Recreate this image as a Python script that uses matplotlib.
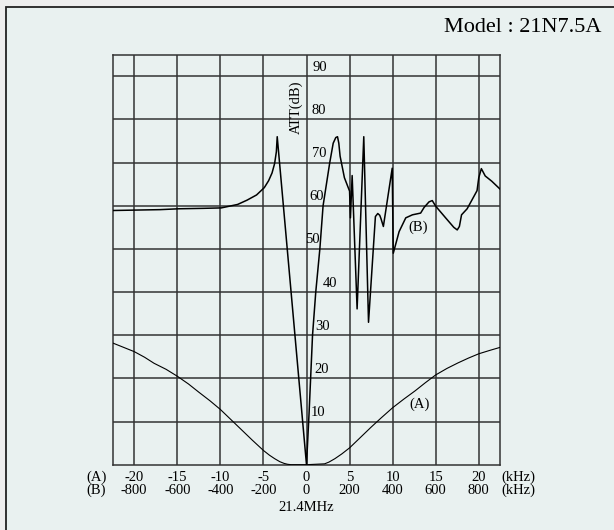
import numpy as np
import matplotlib.pyplot as plt
from matplotlib.patches import Rectangle

plt.rcParams['font.family'] = ['Liberation Serif', 'DejaVu Serif']

# (A) narrow response, kHz from 21.4MHz
a_khz = [-22.5, -21, -20, -18.8, -17.7, -16.3, -15, -13.7, -12.5, -11.2, -10, -8.8,
         -7.6, -6.3, -5, -4.3, -3.7, -3.1, -2.6, -2.2, -1.8,
         0, 2.1, 2.6, 3.3, 4.1, 5, 6.2, 7.5, 8.7, 10, 11.3, 12.6, 13.8, 15,
         16.3, 17.6, 18.8, 20, 21.3, 22.5]
a_att = [28.2, 27.0, 26.2, 24.9, 23.5, 22.1, 20.5, 18.7, 16.8, 14.8, 12.8, 10.5,
         8.2, 5.7, 3.3, 2.2, 1.4, 0.7, 0.3, 0.1, 0.0,
         0.0, 0.2, 0.6, 1.4, 2.5, 3.9, 6.2, 8.7, 10.9, 13.2, 15.2, 17.1, 19.0, 20.8,
         22.3, 23.6, 24.7, 25.7, 26.5, 27.2]

# (B) wide response, kHz from 21.4MHz
b_khz = [-900, -680, -592, -480, -396, -320, -276, -232, -196, -176, -160, -148, -140, -136,
         0, 12, 28, 43, 62, 77, 108, 124, 136, 144, 150, 156, 176, 200, 204, 212,
         235, 266, 288, 320, 331, 340, 346, 357, 398, 403,
         430, 461, 492, 530, 546, 569, 584, 600, 646, 684, 700, 710, 720, 746,
         792, 800, 812, 830, 860, 900]
b_att = [58.9, 59.1, 59.3, 59.4, 59.5, 60.3, 61.3, 62.5, 64.2, 65.8, 67.6, 69.8, 72.5, 76.0,
         0, 12, 30, 40, 50, 60, 70, 74.5, 75.8, 76.0, 74.5, 71.5, 66.5, 63.4, 57.2, 67.0,
         36.1, 76.0, 33.0, 57.5, 58.2, 57.8, 57.0, 55.2, 68.7, 49.0,
         54.0, 57.2, 57.9, 58.3, 59.6, 60.9, 61.2, 59.9, 57.2, 55.0, 54.4, 55.2, 57.9, 59.3,
         63.5, 66.5, 68.6, 66.9, 65.7, 63.8]

a_ticks = [-20, -15, -10, -5, 0, 5, 10, 15, 20]
b_ticks = [-800, -600, -400, -200, 0, 200, 400, 600, 800]
att_ticks = [10, 20, 30, 40, 50, 60, 70, 80, 90]
att_label_x = [1.3, 1.8, 1.9, 2.7, 0.7, 1.2, 1.45, 1.45, 1.6]

bg = '#e9f1f0'
fig = plt.figure(figsize=(6.14, 5.3), dpi=100, facecolor='#eeeeee')
fig.patches.append(Rectangle((5.5 / 614, -0.1), 1.2, 1.1 - 7.3 / 530,
                             transform=fig.transFigure, facecolor=bg,
                             edgecolor='#222222', lw=1.3, zorder=-1))

ax = fig.add_axes([112.7 / 614, 1 - 464.7 / 530, 387.6 / 614, 410 / 530])
ax.set_facecolor(bg)
ax.set_xlim(-22.5, 22.5)
ax.set_ylim(0, 95)
ax.set_xticks([])
ax.set_yticks([])
for s in ax.spines.values():
    s.set_color('#333333')
    s.set_linewidth(1.1)

for x in a_ticks:
    ax.axvline(x, color='#333333', lw=1.1, zorder=1)
for y in att_ticks:
    ax.axhline(y, color='#333333', lw=1.1, zorder=1)

ax.plot(a_khz, a_att, color='black', lw=0.8, zorder=3)
ax.plot(np.array(b_khz) / 40.0, b_att, color='black', lw=1.1, zorder=3)

fs = 10.5
for y, lx in zip(att_ticks, att_label_x):
    ax.text(lx, y + 2.1, str(y), fontsize=fs, ha='center', va='center', zorder=4)
ax.text(-1.15, 82.8, 'ATT(dB)', fontsize=fs, rotation=90, ha='center', va='center')
ax.text(13.1, 14, '(A)', fontsize=fs, ha='center', va='center')
ax.text(13.0, 55, '(B)', fontsize=fs, ha='center', va='center')

tr = ax.get_xaxis_transform()
ya, yb, ym = -0.031, -0.062, -0.104
for xa, xb in zip(a_ticks, b_ticks):
    ax.text(xa, ya, str(xa), transform=tr, fontsize=fs, ha='center', va='center')
    ax.text(xa, yb, str(xb), transform=tr, fontsize=fs, ha='center', va='center')
ax.text(-24.4, ya, '(A)', transform=tr, fontsize=fs, ha='center', va='center')
ax.text(-24.4, yb, '(B)', transform=tr, fontsize=fs, ha='center', va='center')
ax.text(24.6, ya, '(kHz)', transform=tr, fontsize=fs, ha='center', va='center')
ax.text(24.6, yb, '(kHz)', transform=tr, fontsize=fs, ha='center', va='center')
ax.text(0, ym, '21.4MHz', transform=tr, fontsize=fs, ha='center', va='center')

fig.text(602 / 614, 1 - 27 / 530, 'Model : 21N7.5A', fontsize=16, ha='right', va='center')

fig.savefig('out.png', dpi=100, facecolor=fig.get_facecolor())
